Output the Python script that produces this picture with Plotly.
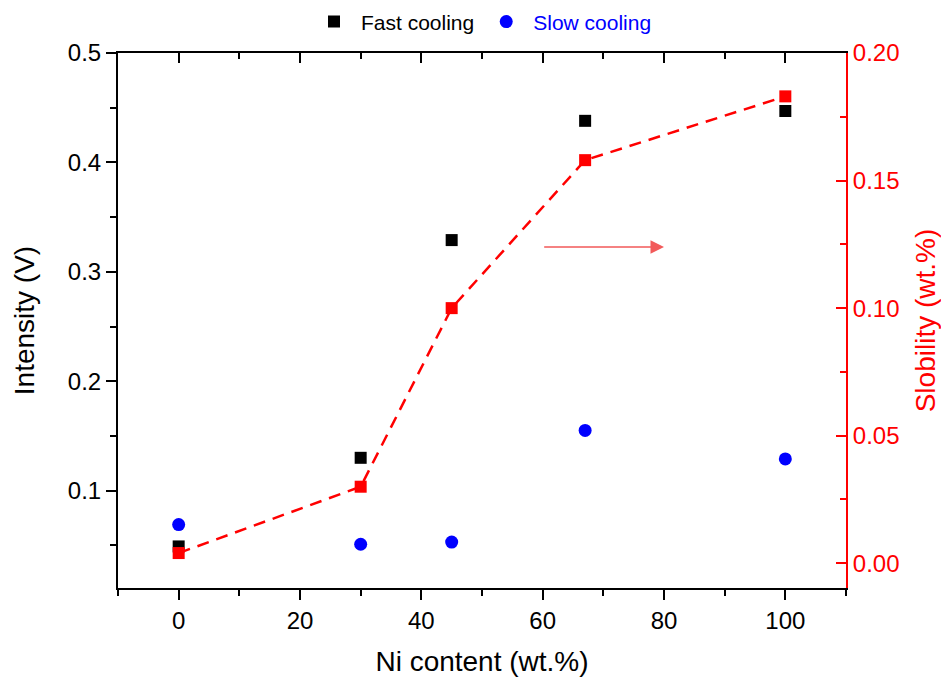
import plotly.graph_objects as go

# ---- data ----
ni_content = [0, 30, 45, 67, 100]
fast_cooling = [0.049, 0.130, 0.329, 0.438, 0.447]
slow_cooling = [0.069, 0.051, 0.053, 0.155, 0.129]
solubility = [0.004, 0.030, 0.100, 0.158, 0.183]

x_ticks = [0, 20, 40, 60, 80, 100]
x_minor = [-10, 10, 30, 50, 70, 90, 110]
yl_ticks = [0.1, 0.2, 0.3, 0.4, 0.5]
yl_minor = [0.05, 0.15, 0.25, 0.35, 0.45]
yr_ticks = [0.00, 0.05, 0.10, 0.15, 0.20]
yr_minor = [0.025, 0.075, 0.125, 0.175]

arrow_x0, arrow_x1, arrow_y = 60, 80, 0.124

FONT = "Liberation Sans, Arial, sans-serif"
RED = "#ff0000"
BLUE = "#0000ff"

fig = go.Figure()
fig.add_trace(go.Scatter(
    x=ni_content, y=fast_cooling, mode="markers", name="Fast cooling",
    marker=dict(symbol="square", size=12, color="black"),
    xaxis="x", yaxis="y"))
fig.add_trace(go.Scatter(
    x=ni_content, y=slow_cooling, mode="markers",
    name="<span style='color:#0000ff'>Slow cooling</span>",
    marker=dict(symbol="circle", size=13, color=BLUE),
    xaxis="x", yaxis="y"))
fig.add_trace(go.Scatter(
    x=ni_content, y=solubility, mode="lines+markers", showlegend=False,
    line=dict(color=RED, width=2.5, dash="12px,8px"),
    marker=dict(symbol="square", size=12, color=RED),
    xaxis="x2", yaxis="y2"))

fig.add_annotation(
    x=arrow_x1, y=arrow_y, ax=arrow_x0, ay=arrow_y,
    xref="x2", yref="y2", axref="x2", ayref="y2",
    text="", showarrow=True, arrowhead=2, arrowsize=1.8, arrowwidth=1.5,
    arrowcolor="#f25a5a")

axis_common = dict(showgrid=False, zeroline=False, showline=True, linewidth=2,
                   ticklen=10, tickwidth=2, automargin=False)

fig.update_layout(
    width=941, height=677,
    margin=dict(l=118, r=95, t=53, b=89, autoexpand=False),
    paper_bgcolor="white", plot_bgcolor="white",
    font=dict(family=FONT, size=24, color="black"),
    showlegend=True,
    legend=dict(orientation="h", x=0.500, xanchor="center", y=1.058, yanchor="middle",
                font=dict(size=21, color="black"), itemwidth=44,
                bgcolor="rgba(0,0,0,0)"),
    xaxis=dict(range=[-10, 110], tickvals=x_ticks, ticks="outside",
               linecolor="black", tickcolor="black",
               minor=dict(tickvals=x_minor, ticks="outside", ticklen=6, tickwidth=2,
                          tickcolor="black"),
               title=dict(text="Ni content (wt.%)", font=dict(size=28), standoff=19),
               **axis_common),
    xaxis2=dict(range=[-10, 110], overlaying="x", side="top", anchor="y2",
                tickvals=x_ticks, ticks="inside", showticklabels=False,
                linecolor="black", tickcolor="black",
                minor=dict(tickvals=x_minor, ticks="inside", ticklen=6, tickwidth=2,
                           tickcolor="black"),
                **axis_common),
    yaxis=dict(range=[0.011, 0.5], tickvals=yl_ticks, tickformat=".1f",
               ticks="outside", linecolor="black", tickcolor="black",
               minor=dict(tickvals=yl_minor, ticks="outside", ticklen=6, tickwidth=2,
                          tickcolor="black"),
               title=dict(text="Intensity (V)", font=dict(size=28), standoff=25),
               **axis_common),
    yaxis2=dict(range=[-0.0097, 0.2], overlaying="y", side="right", anchor="x2",
                tickvals=yr_ticks, tickformat=".2f", ticks="inside",
                linecolor=RED, tickcolor=RED, tickfont=dict(color=RED),
                minor=dict(tickvals=yr_minor, ticks="inside", ticklen=6, tickwidth=2,
                           tickcolor=RED),
                title=dict(text="Slobility (wt.%)", font=dict(size=28, color=RED),
                           standoff=19),
                **axis_common),
)

fig.write_html("out.html", config={"displayModeBar": False},
               post_script="document.body.style.margin='0';")
